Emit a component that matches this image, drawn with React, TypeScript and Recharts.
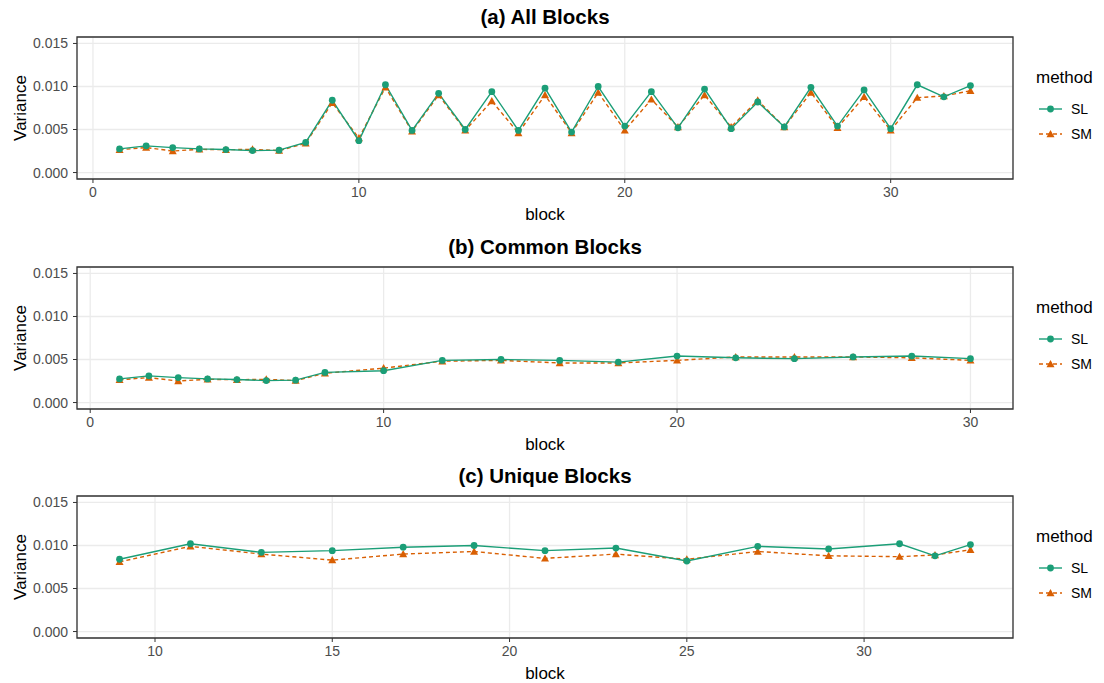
import { CartesianGrid, Legend, Line, LineChart, ReferenceArea, XAxis, YAxis } from 'recharts';

// variance per block
const blocks = [
  1, 2, 3, 4, 5, 6, 7, 8, 9, 10, 11, 12, 13, 14, 15, 16, 17, 18, 19, 20, 21, 22, 23, 24, 25, 26, 27, 28, 29, 30, 31, 32, 33,
];
const slVariance = [
  0.00275, 0.0031, 0.0029, 0.00275, 0.00267, 0.00255, 0.0026, 0.0035, 0.0084, 0.0037, 0.0102, 0.0049, 0.0092, 0.005,
  0.0094, 0.0049, 0.0098, 0.0047, 0.01, 0.0054, 0.0094, 0.0052, 0.0097, 0.0051, 0.0082, 0.0053, 0.0099, 0.0054, 0.0096,
  0.0051, 0.0102, 0.0088, 0.0101,
];
const smVariance = [
  0.00265, 0.0029, 0.0025, 0.0027, 0.00265, 0.0027, 0.00255, 0.0034, 0.0081, 0.004, 0.0099, 0.0048, 0.009, 0.0049,
  0.0083, 0.0046, 0.009, 0.0046, 0.0093, 0.0049, 0.0085, 0.0053, 0.009, 0.0053, 0.0084, 0.0053, 0.0093, 0.0052, 0.0088,
  0.0049, 0.0087, 0.0089, 0.0095,
];
const commonBlocks = [1, 2, 3, 4, 5, 6, 7, 8, 10, 12, 14, 16, 18, 20, 22, 24, 26, 28, 30];
const uniqueBlocks = [9, 11, 13, 15, 17, 19, 21, 23, 25, 27, 29, 31, 32, 33];
const methods = ['SL', 'SM'];
const yTicks = [0, 0.005, 0.01, 0.015];
const ticksAll = [0, 10, 20, 30];
const ticksUnique = [10, 15, 20, 25, 30];

const SL_COLOR = '#1B9E77';
const SM_COLOR = '#D95F02';
const FONT = '"Liberation Sans", Arial, Helvetica, sans-serif';

const allRows = blocks.map((b, i) => ({ block: b, SL: slVariance[i], SM: smVariance[i] }));
const commonRows = allRows.filter((r) => commonBlocks.includes(r.block));
const uniqueRows = allRows.filter((r) => uniqueBlocks.includes(r.block));

// ggplot-style 5% expansion
const expand = (lo: number, hi: number): [number, number] => [lo - (hi - lo) * 0.05, hi + (hi - lo) * 0.05];
const yDomain = expand(0, 0.015);

function TriangleDot(props: any) {
  const { cx, cy } = props;
  if (cx == null || cy == null) return <g />;
  const s = 4;
  return (
    <polygon points={`${cx},${cy - s} ${cx + s},${cy + s * 0.8} ${cx - s},${cy + s * 0.8}`} fill={SM_COLOR} />
  );
}

function YTitle(props: any) {
  const vb = props.viewBox || { x: 0, y: 0, height: 0 };
  const x = 26;
  const y = vb.y + vb.height / 2;
  return (
    <text x={x} y={y} transform={`rotate(-90 ${x} ${y})`} textAnchor="middle" fontSize={17} fill="#000" fontFamily={FONT}>
      Variance
    </text>
  );
}

function XTitle(props: any) {
  const vb = props.viewBox || { x: 0, y: 0, width: 0 };
  return (
    <text x={vb.x + vb.width / 2} y={vb.y + 40.5} textAnchor="middle" fontSize={17} fill="#000" fontFamily={FONT}>
      block
    </text>
  );
}

function MethodLegend() {
  return (
    <svg width={70} height={90} style={{ display: 'block', fontFamily: FONT }}>
      <text x={2} y={22} fontSize={17} fill="#000">
        method
      </text>
      {methods.map((m, i) => {
        const y = 48 + i * 25;
        const color = m === 'SL' ? SL_COLOR : SM_COLOR;
        return (
          <g key={m}>
            <line x1={5} x2={28} y1={y} y2={y} stroke={color} strokeWidth={1.4} strokeDasharray={m === 'SM' ? '4 3' : undefined} />
            {m === 'SL' ? (
              <circle cx={16.5} cy={y} r={3.4} fill={color} />
            ) : (
              <polygon points={`16.5,${y - 4} 20.5,${y + 3.2} 12.5,${y + 3.2}`} fill={color} />
            )}
            <text x={37} y={y + 5} fontSize={14} fill="#000">
              {m}
            </text>
          </g>
        );
      })}
    </svg>
  );
}

interface PanelProps {
  title: string;
  data: { block: number; SL: number; SM: number }[];
  xDomain: [number, number];
  xTicks: number[];
  top: number;
}

function Panel({ title, data, xDomain, xTicks, top }: PanelProps) {
  const tick = { fontSize: 14, fill: '#4D4D4D', fontFamily: FONT };
  return (
    <div style={{ position: 'absolute', left: 0, top, width: 1104, height: 229 }}>
      <LineChart width={1104} height={229} data={data} margin={{ top: 37, right: 91, bottom: 0, left: 0 }}>
        <CartesianGrid stroke="#EBEBEB" strokeWidth={1.3} />
        <XAxis
          dataKey="block"
          type="number"
          domain={xDomain}
          ticks={xTicks}
          interval={0}
          allowDataOverflow
          height={50}
          axisLine={false}
          tickSize={4}
          tickMargin={4}
          tickLine={{ stroke: '#333333' }}
          tick={tick}
          label={<XTitle />}
        />
        <YAxis
          type="number"
          domain={yDomain}
          ticks={yTicks}
          interval={0}
          allowDataOverflow
          width={77}
          axisLine={false}
          tickSize={4}
          tickMargin={5}
          tickLine={{ stroke: '#333333' }}
          tick={tick}
          tickFormatter={(v: number) => v.toFixed(3)}
          label={<YTitle />}
        />
        <ReferenceArea
          x1={xDomain[0]}
          x2={xDomain[1]}
          y1={yDomain[0]}
          y2={yDomain[1]}
          fill="none"
          fillOpacity={0}
          stroke="#333333"
          strokeWidth={1.3}
          ifOverflow="visible"
        />
        <Line
          dataKey="SM"
          stroke={SM_COLOR}
          strokeWidth={1.4}
          strokeDasharray="4 3"
          dot={<TriangleDot />}
          activeDot={false}
          isAnimationActive={false}
        />
        <Line
          dataKey="SL"
          stroke={SL_COLOR}
          strokeWidth={1.4}
          dot={{ r: 3.4, fill: SL_COLOR, stroke: 'none' }}
          activeDot={false}
          isAnimationActive={false}
        />
        <Legend
          layout="horizontal"
          align="center"
          verticalAlign="middle"
          width={70}
          wrapperStyle={{ left: 1034, top: 61 }}
          content={() => <MethodLegend />}
        />
      </LineChart>
      <div
        style={{
          position: 'absolute',
          left: 77,
          top: 7,
          width: 936,
          textAlign: 'center',
          fontFamily: FONT,
          fontWeight: 'bold',
          fontSize: 20.5,
          lineHeight: '20.5px',
          color: '#000',
        }}
      >
        {title}
      </div>
    </div>
  );
}

export default function App() {
  return (
    <div style={{ position: 'absolute', left: 0, top: 0, width: 1104, height: 683, background: '#fff', overflow: 'hidden' }}>
      <Panel title="(a) All Blocks" data={allRows} xDomain={expand(1, 33)} xTicks={ticksAll} top={0} />
      <Panel title="(b) Common Blocks" data={commonRows} xDomain={expand(1, 30)} xTicks={ticksAll} top={230} />
      <Panel title="(c) Unique Blocks" data={uniqueRows} xDomain={expand(9, 33)} xTicks={ticksUnique} top={459} />
    </div>
  );
}
